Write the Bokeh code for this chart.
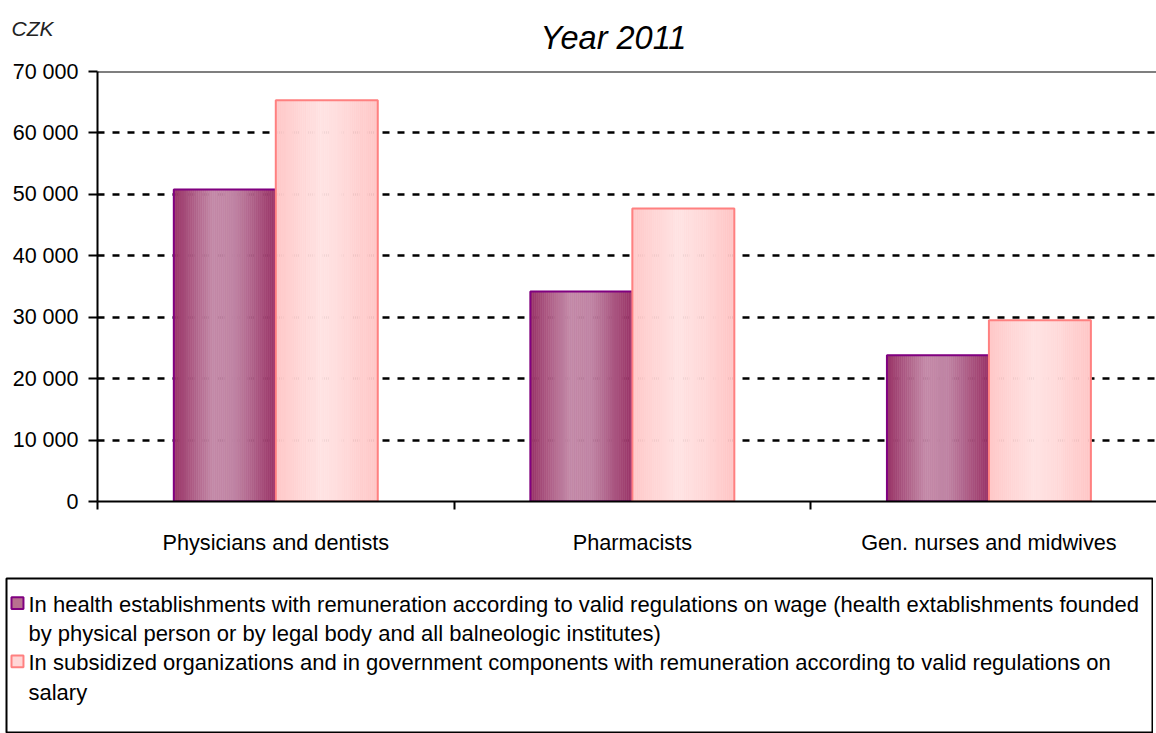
from bokeh.plotting import figure
from bokeh.models import Range1d, FixedTicker, Span, Spacer
from bokeh.layouts import column, row
from bokeh.core.properties import value
from bokeh.embed import file_html
from bokeh.resources import INLINE

# ---- data ----
categories = ["Physicians and dentists", "Pharmacists", "Gen. nurses and midwives"]
wage_regulated = [50800, 34200, 23800]
salary_regulated = [65300, 47700, 29500]
y_ticks = [0, 10000, 20000, 30000, 40000, 50000, 60000, 70000]
y_tick_labels = ["0", "10 000", "20 000", "30 000", "40 000", "50 000", "60 000", "70 000"]
title_text = "Year 2011"
unit_text = "CZK"
legend_lines = [
    ["In health establishments with remuneration according to valid regulations on wage (health extablishments founded",
     "by physical person or by legal body and all balneologic institutes)"],
    ["In subsidized organizations and in government components with remuneration according to valid regulations on",
     "salary"],
]

FONT = "Liberation Sans"

# ---- styles ----
purple_stops = [(0.0, (0x99, 0x33, 0x66)), (0.38, (0xC3, 0x89, 0xA7)), (0.6, (0xC0, 0x84, 0xA4)), (1.0, (0x99, 0x33, 0x66))]
pink_stops = [(0.0, (0xFF, 0xC8, 0xC8)), (0.45, (0xFF, 0xE3, 0xE3)), (0.62, (0xFF, 0xDD, 0xDD)), (1.0, (0xFF, 0xC6, 0xC6))]
series = [
    (wage_regulated, purple_stops, "#800080", -1),
    (salary_regulated, pink_stops, "#FF8080", 1),
]
BAR_W = 0.286
N_STRIPES = 50


def shade(stops, t):
    for (t0, c0), (t1, c1) in zip(stops[:-1], stops[1:]):
        if t0 <= t <= t1:
            f = (t - t0) / (t1 - t0) if t1 > t0 else 0
            rgb = [round(a + (b - a) * f) for a, b in zip(c0, c1)]
            return "#%02x%02x%02x" % tuple(rgb)
    return "#%02x%02x%02x" % stops[-1][1]


# ---- header (unit + title) ----
HEAD_H = 55
head = figure(width=1156, height=HEAD_H, output_backend="svg", toolbar_location=None,
              x_range=Range1d(0, 1156), y_range=Range1d(HEAD_H, 0), min_border=0)
head.frame_align = False
head.axis.visible = False
head.grid.visible = False
head.outline_line_color = None
head.text(x=[11], y=[28], text=[unit_text], text_font=value(FONT), text_font_style="italic",
          text_font_size="21px", text_color="#222222", text_baseline="middle", text_align="left")
head.text(x=[613], y=[37], text=[title_text], text_font=value(FONT), text_font_style="italic",
          text_font_size="32.5px", text_color="black", text_baseline="middle", text_align="center")

# ---- main chart ----
p = figure(width=1156, height=577 - HEAD_H, output_backend="svg", toolbar_location=None,
           x_range=Range1d(0, 2.97), y_range=Range1d(0, 70000),
           min_border_left=97, min_border_right=0, min_border_top=71 - HEAD_H, min_border_bottom=76)
p.frame_align = False
p.outline_line_color = None
p.background_fill_color = "white"

for vals, stops, edge, side in series:
    xs, tops, cols = [], [], []
    centers = []
    for i, v in enumerate(vals):
        c = i + 0.5 + side * BAR_W / 2
        centers.append(c)
        for k in range(N_STRIPES):
            t = (k + 0.5) / N_STRIPES
            xs.append(c - BAR_W / 2 + t * BAR_W)
            tops.append(v)
            cols.append(shade(stops, t))
    p.vbar(x=xs, top=tops, bottom=0, width=BAR_W / N_STRIPES,
           fill_color=cols, line_color=cols, line_width=0.6)
    p.vbar(x=centers, top=vals, bottom=0, width=BAR_W, fill_color=None,
           line_color=edge, line_width=2)

# grid
p.xgrid.visible = False
p.ygrid.ticker = FixedTicker(ticks=y_ticks[1:-1])
p.ygrid.grid_line_color = "black"
p.ygrid.grid_line_width = 2.5
p.ygrid.grid_line_dash = "7 8"
p.add_layout(Span(location=y_ticks[-1], dimension="width", line_color="black", line_width=2))

# y axis
p.yaxis.ticker = FixedTicker(ticks=y_ticks)
p.yaxis.major_label_overrides = {t: l for t, l in zip(y_ticks, y_tick_labels)}
p.yaxis.major_label_text_font = FONT
p.yaxis.major_label_text_font_size = "21.5px"
p.yaxis.major_label_text_color = "black"
p.yaxis.axis_line_width = 2
p.yaxis.axis_line_color = "black"
p.yaxis.major_tick_line_width = 2
p.yaxis.major_tick_line_color = "black"
p.yaxis.major_tick_out = 9
p.yaxis.major_tick_in = 0
p.yaxis.minor_tick_line_color = None
p.yaxis.major_label_standoff = 10

# x axis
centers_x = [i + 0.5 for i in range(len(categories))]
bounds_x = [i for i in range(len(categories) + 1)]
p.xaxis.ticker = FixedTicker(ticks=centers_x, minor_ticks=bounds_x)
p.xaxis.major_label_overrides = {c: n for c, n in zip(centers_x, categories)}
p.xaxis.major_label_text_font = FONT
p.xaxis.major_label_text_font_size = "21.7px"
p.xaxis.major_label_text_color = "black"
p.xaxis.major_tick_line_color = None
p.xaxis.major_tick_out = 0
p.xaxis.major_tick_in = 0
p.xaxis.minor_tick_line_color = "black"
p.xaxis.minor_tick_line_width = 2
p.xaxis.minor_tick_out = 8
p.xaxis.minor_tick_in = 0
p.xaxis.axis_line_width = 2
p.xaxis.axis_line_color = "black"
p.xaxis.major_label_standoff = 20

# ---- legend box ----
leg = figure(width=1148, height=156, output_backend="svg", toolbar_location=None,
             x_range=Range1d(0, 1148), y_range=Range1d(156, 0),
             min_border=1)
leg.frame_align = False
leg.axis.visible = False
leg.grid.visible = False
leg.outline_line_color = "black"
leg.outline_line_width = 2

sw_fill = ["#B8708F", "#FFD6D6"]
sw_line = ["#800080", "#FF8080"]
line_y = [[26, 56], [85, 115]]
for j, lines in enumerate(legend_lines):
    leg.rect(x=[11], y=[line_y[j][0] - 1], width=12, height=12, fill_color=sw_fill[j],
             line_color=sw_line[j], line_width=2)
    leg.text(x=[22] * len(lines), y=line_y[j][:len(lines)], text=lines,
             text_font=value(FONT), text_font_size="22px", text_baseline="middle",
             text_color="black")

layout = column(head, p, row(Spacer(width=5, height=156), leg, spacing=0), spacing=0)
open("out.html", "w").write(file_html(layout, INLINE))
